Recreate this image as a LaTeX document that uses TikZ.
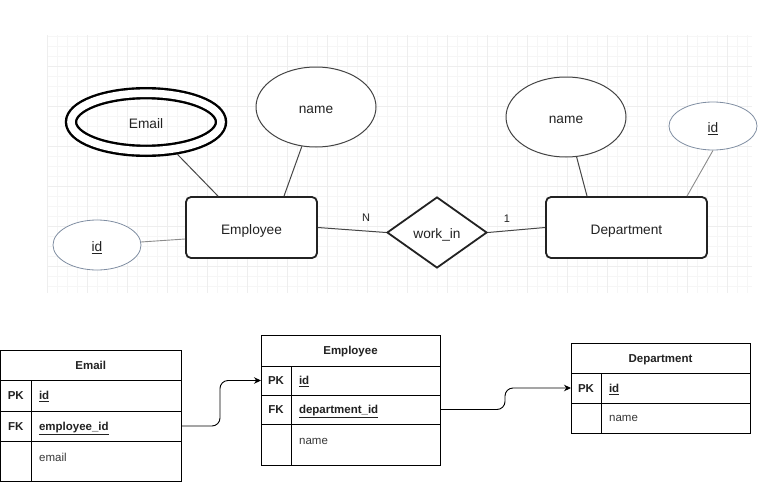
\documentclass[tikz,border=0pt]{standalone}
\usepackage{fontspec}
\setmainfont{Liberation Sans}
\usetikzlibrary{shapes.geometric,arrows.meta,calc}
\definecolor{gridminor}{RGB}{246,246,246}
\definecolor{gridmajor}{RGB}{238,238,238}
\definecolor{ink}{RGB}{34,34,34}
\definecolor{conn}{RGB}{70,70,70}
\definecolor{idline}{RGB}{128,142,162}
\definecolor{idconn}{RGB}{140,140,140}
\tikzset{
  topfont/.style={font=\fontsize{13.7}{16}\selectfont, text=ink, text height=13pt, text depth=0pt},
  attr/.style={ellipse, draw=ink!85, line width=1pt, fill=white, inner sep=0pt, topfont},
  multiattr/.style={ellipse, draw=black, line width=2.4pt, double=white, double distance=7.6pt,
    minimum width=150pt, minimum height=57.6pt, inner sep=0pt, outer sep=6pt, topfont},
  keyattr/.style={ellipse, draw=idline, line width=0.8pt, fill=white, inner sep=0pt, topfont},
  entity/.style={rectangle, rounded corners=5pt, draw=ink, line width=1.8pt, fill=white, inner sep=0pt, topfont},
  relship/.style={diamond, draw=ink, line width=1.8pt, fill=white, inner sep=0pt, topfont, text height=12pt},
  link/.style={draw=conn, line width=1pt},
  idlink/.style={draw=idconn, line width=0.9pt},
  card/.style={font=\fontsize{11}{13}\selectfont, text=ink, inner sep=0pt},
  hdrcell/.style={rectangle, draw=black, line width=0.9pt, inner sep=0pt, outer sep=0pt, anchor=north west,
    font=\fontsize{11.5}{14}\selectfont\bfseries, text=ink, text height=8.4pt, text depth=0pt},
  fieldcell/.style={rectangle, draw=black, line width=0.9pt, inner xsep=8pt, inner ysep=0pt, outer sep=0pt,
    anchor=north west, align=left, font=\fontsize{11.5}{14}\selectfont\bfseries, text=ink,
    text height=8.4pt, text depth=0pt},
  rowtxt/.style={font=\fontsize{11.5}{14}\selectfont, text=ink!90, inner sep=0pt, anchor=west},
  fkarrow/.style={draw=black, line width=0.9pt, rounded corners=8pt, -{Stealth[length=7pt,width=6.5pt]}}
}
\begin{document}
\begin{tikzpicture}[x=1pt,y=-1pt]
\useasboundingbox (0,0) rectangle (782,482);
\fill[white] (0,0) rectangle (782,482);
% grid background
\foreach \x in {47,57,...,747} \draw[gridminor, line width=0.7pt] (\x,35) -- (\x,293);
\foreach \y in {36.7,46.7,...,287} \draw[gridminor, line width=0.7pt] (47,\y) -- (752,\y);
\foreach \x in {47,87,...,747} \draw[gridmajor, line width=0.7pt] (\x,35) -- (\x,293);
\foreach \y in {66.7,106.7,...,287} \draw[gridmajor, line width=0.7pt] (47,\y) -- (752,\y);

% ER diagram
\node[multiattr] (emailAttr) at (146,122) {Email};
\node[attr, minimum width=120pt, minimum height=80pt] (empName) at (316,107) {name};
\node[keyattr, minimum width=88pt, minimum height=50pt] (empId) at (97,245) {\underline{id}};
\node[entity, minimum width=131pt, minimum height=61pt] (employee) at (251.5,227.5) {Employee};
\node[relship, minimum width=100pt, minimum height=71pt] (worksIn) at (437,232.5) {work\_in};
\node[entity, minimum width=161pt, minimum height=61pt] (department) at (626.5,227.5) {Department};
\node[attr, minimum width=120pt, minimum height=80pt] (deptName) at (566,117) {name};
\node[keyattr, minimum width=88pt, minimum height=48pt] (deptId) at (713,126) {\underline{id}};

\draw[link] (emailAttr) -- ([xshift=-33.5pt]employee.north);
\draw[link] (empName) -- ([xshift=32.5pt]employee.north);
\draw[idlink] (empId) -- ([yshift=-11.5pt]employee.west);
\draw[link] (employee.east) -- (worksIn.west);
\draw[link] (worksIn.east) -- (department.west);
\draw[link] (deptName) -- ([xshift=-39.5pt]department.north);
\draw[idlink] (deptId.south) -- ([xshift=60.5pt]department.north);
\node[card] (cardN) at (366,218) {N};
\node[card] (cardOne) at (507,219) {1};

% Email table
\node[hdrcell, minimum width=180.5pt, minimum height=30pt] (emailH) at (0.5,350) {Email};
\node[hdrcell, minimum width=30.5pt, minimum height=31pt] (emailPKk) at (0.5,380) {PK};
\node[fieldcell, text width=134pt, minimum height=31pt] (emailPK) at (31,380) {\underline{id}};
\node[hdrcell, minimum width=30.5pt, minimum height=30pt] (emailFKk) at (0.5,411) {FK};
\node[fieldcell, text width=134pt, minimum height=30pt] (emailFK) at (31,411) {\underline{employee\_id}};
\node[hdrcell, minimum width=30.5pt, minimum height=40pt] (emailR3k) at (0.5,441) {};
\node[hdrcell, minimum width=150pt, minimum height=40pt] (emailR3) at (31,441) {};
\node[rowtxt] (emailR3t) at ([xshift=8pt,yshift=-16pt]emailR3.north west) {email};

% Employee table
\node[hdrcell, minimum width=179pt, minimum height=31pt] (empH) at (261,335) {Employee};
\node[hdrcell, minimum width=30pt, minimum height=29pt] (empPKk) at (261,366) {PK};
\node[fieldcell, text width=133pt, minimum height=29pt] (empPK) at (291,366) {\underline{id}};
\node[hdrcell, minimum width=30pt, minimum height=29pt] (empFKk) at (261,395) {FK};
\node[fieldcell, text width=133pt, minimum height=29pt] (empFK) at (291,395) {\underline{department\_id}};
\node[hdrcell, minimum width=30pt, minimum height=41pt] (empR3k) at (261,424) {};
\node[hdrcell, minimum width=149pt, minimum height=41pt] (empR3) at (291,424) {};
\node[rowtxt] (empR3t) at ([xshift=8pt,yshift=-17pt]empR3.north west) {name};

% Department table
\node[hdrcell, minimum width=179pt, minimum height=30pt] (deptH) at (571,343) {Department};
\node[hdrcell, minimum width=30pt, minimum height=30pt] (deptPKk) at (571,373) {PK};
\node[fieldcell, text width=133pt, minimum height=30pt] (deptPK) at (601,373) {\underline{id}};
\node[hdrcell, minimum width=30pt, minimum height=30pt] (deptR2k) at (571,403) {};
\node[hdrcell, minimum width=149pt, minimum height=30pt] (deptR2) at (601,403) {};
\node[rowtxt] (deptR2t) at ([xshift=8pt,yshift=-15pt]deptR2.north west) {name};

% foreign key arrows
\draw[fkarrow] (emailFK.east) -- ++(39,0) |- (empPKk.west);
\draw[fkarrow] (empFK.east) -- ++(65,0) |- (deptPKk.west);
\end{tikzpicture}
\end{document}
